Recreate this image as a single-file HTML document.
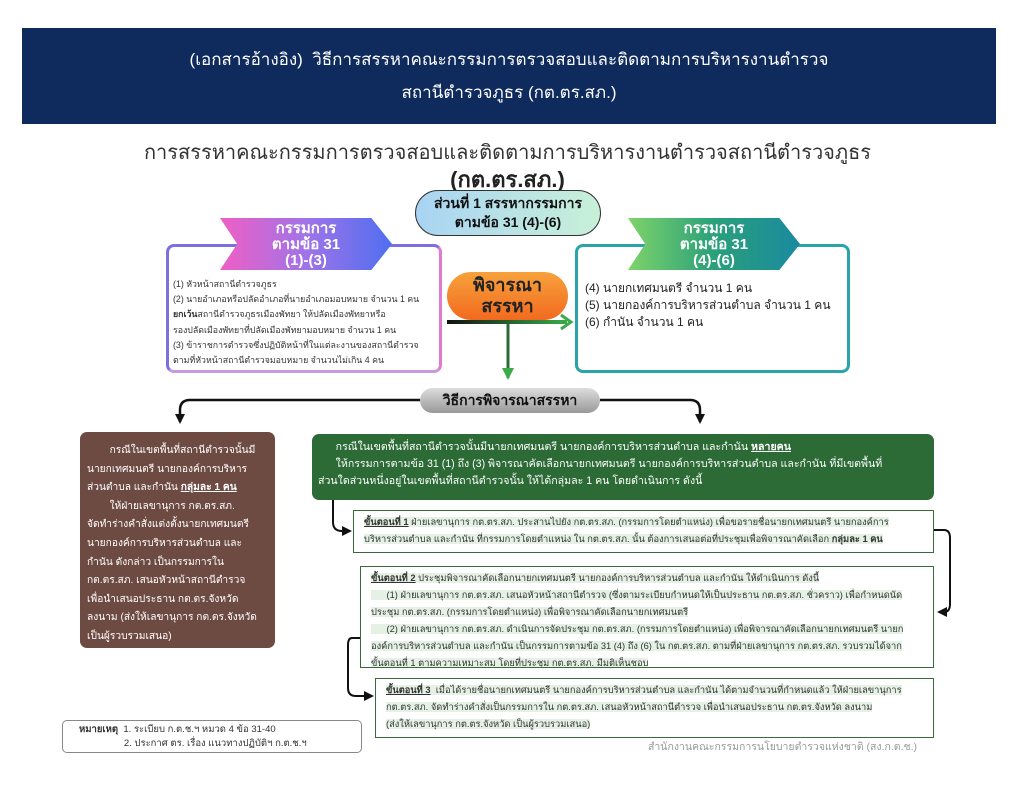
<!DOCTYPE html>
<html><head><meta charset="utf-8">
<style>
*{margin:0;padding:0;box-sizing:border-box}
body{width:1015px;height:796px;background:#fff;position:relative;overflow:hidden;font-family:"Liberation Sans","Noto Sans CJK SC",sans-serif;color:#333}
.a{position:absolute}
.hdr{left:22px;top:28px;width:974px;height:96px;background:#0f2a5c;color:#fff;text-align:center;font-size:17px;line-height:33px;padding-top:15px}
.title{left:0;width:1015px;top:136px;text-align:center;font-size:20px;color:#333}
.title2{left:0;width:1015px;top:162px;text-align:center;font-size:22px;font-weight:bold;color:#222}
.pill{left:415px;top:190px;width:186px;height:46px;border:1.5px solid #333;border-radius:23px;background:linear-gradient(90deg,#a9d4f3,#c8f0d8);text-align:center;font-weight:bold;font-size:14px;line-height:19px;padding-top:3px;color:#111}
.box{border-radius:8px;background:#fff}
.lbox{left:166px;top:244px;width:276px;height:129px;border:3px solid #7c6fe0;border-right-color:#e27bd0;border-bottom-color:#c89be0}
.rbox{left:575px;top:244px;width:275px;height:129px;border:3px solid #2aa4a6}
.ban{height:52px;color:#fff;font-weight:bold;font-size:15px;line-height:16px;text-align:center;padding-top:3px;clip-path:polygon(0 0,88% 0,100% 50%,88% 100%,0 100%,10% 50%)}
.lban{left:220px;top:218px;width:172px;background:linear-gradient(90deg,#ef5fc4,#a073e8,#4f6ff0)}
.rban{left:628px;top:218px;width:172px;background:linear-gradient(90deg,#7ed36a,#2aa07a,#1a8aa0)}
.lt{left:173px;top:277px;width:266px;font-size:8.8px;line-height:15.2px;color:#333;white-space:nowrap}
.rt{left:585px;top:280px;width:262px;font-size:12px;line-height:17px;color:#222;white-space:nowrap}
.or{left:447px;top:272px;width:121px;height:48px;border-radius:24px;background:linear-gradient(180deg,#f7a23c,#f26a1f);text-align:center;font-weight:bold;font-size:18px;line-height:21px;padding-top:3px;color:#222}
.vp{left:420px;top:388px;width:180px;height:25px;border-radius:13px;background:linear-gradient(180deg,#ddd,#999);text-align:center;font-weight:bold;font-size:14px;line-height:25px;color:#111}
.brown{left:80px;top:432px;width:195px;height:216px;background:#6d4a42;border-radius:7px;color:#fff;font-size:10.2px;line-height:18.6px;padding:10px 4px 0 7px;white-space:nowrap}
.green{left:312px;top:434px;width:622px;height:66px;background:#2c6a36;border-radius:7px;color:#fff;font-size:10.6px;line-height:17px;padding:5px 6px 0 6px;white-space:nowrap}
.step{border:1.5px solid #3a6a3a;background:#fff;font-size:9.3px;line-height:17px;color:#333;padding:3px 6px 0 10px;white-space:nowrap;overflow:hidden}
.step span.h{background:#e4f1e4}
.s1{left:353px;top:510px;width:581px;height:43px}
.s2{left:360px;top:566px;width:574px;height:102px}
.s3{left:375px;top:678px;width:559px;height:60px}
.note{left:62px;top:720px;width:300px;height:33px;border:1.5px solid #888;border-radius:5px;font-size:9.5px;line-height:14px;padding:2px 0 0 16px;white-space:nowrap}
.foot{left:648px;top:738px;font-size:10.5px;color:#999;white-space:nowrap}
</style></head><body>
<div class="a hdr">(เอกสารอ้างอิง)&nbsp; วิธีการสรรหาคณะกรรมการตรวจสอบและติดตามการบริหารงานตำรวจ<br>สถานีตำรวจภูธร (กต.ตร.สภ.)</div>
<div class="a title">การสรรหาคณะกรรมการตรวจสอบและติดตามการบริหารงานตำรวจสถานีตำรวจภูธร</div>
<div class="a title2">(กต.ตร.สภ.)</div>
<div class="a pill">ส่วนที่ 1 สรรหากรรมการ<br>ตามข้อ 31 (4)-(6)</div>

<div class="a box lbox"></div>
<div class="a ban lban">กรรมการ<br>ตามข้อ 31<br>(1)-(3)</div>
<div class="a lt">(1) หัวหน้าสถานีตำรวจภูธร<br>(2) นายอำเภอหรือปลัดอำเภอที่นายอำเภอมอบหมาย จำนวน 1 คน<br><b>ยกเว้น</b>สถานีตำรวจภูธรเมืองพัทยา ให้ปลัดเมืองพัทยาหรือ<br>รองปลัดเมืองพัทยาที่ปลัดเมืองพัทยามอบหมาย จำนวน 1 คน<br>(3) ข้าราชการตำรวจซึ่งปฏิบัติหน้าที่ในแต่ละงานของสถานีตำรวจ<br>ตามที่หัวหน้าสถานีตำรวจมอบหมาย จำนวนไม่เกิน 4 คน</div>

<div class="a box rbox"></div>
<div class="a ban rban">กรรมการ<br>ตามข้อ 31<br>(4)-(6)</div>
<div class="a rt">(4) นายกเทศมนตรี จำนวน 1 คน<br>(5) นายกองค์การบริหารส่วนตำบล จำนวน 1 คน<br>(6) กำนัน จำนวน 1 คน</div>

<div class="a or">พิจารณา<br>สรรหา</div>

<svg class="a" style="left:0;top:0" width="1015" height="796">
<defs>
<linearGradient id="g1" x1="0" x2="1"><stop offset="0" stop-color="#111"/><stop offset="1" stop-color="#3aaa4a"/></linearGradient>
<marker id="ag" markerUnits="userSpaceOnUse" markerWidth="14" markerHeight="14" refX="10" refY="7" orient="auto"><path d="M0,1 L12,7 L0,13 Z" fill="#3aaa4a"/></marker>
<marker id="ak" markerUnits="userSpaceOnUse" markerWidth="12" markerHeight="12" refX="8" refY="6" orient="auto"><path d="M0,1 L10,6 L0,11 Z" fill="#111"/></marker>
</defs>
<rect x="447" y="320" width="120" height="4" fill="url(#g1)"/>
<path d="M561,315 L571,322 L561,329" fill="none" stroke="#3aaa4a" stroke-width="3"/>
<line x1="508" y1="324" x2="508" y2="378" stroke="#2c6a36" stroke-width="3" marker-end="url(#ag)"/>
<path d="M420,400 L190,400 Q180,400 180,410 L180,422" fill="none" stroke="#111" stroke-width="2.5" marker-end="url(#ak)"/>
<path d="M600,400 L690,400 Q700,400 700,410 L700,422" fill="none" stroke="#111" stroke-width="2.5" marker-end="url(#ak)"/>
<path d="M333,500 L333,522 Q333,531 342,531 L350,531" fill="none" stroke="#111" stroke-width="2" marker-end="url(#ak)"/>
<path d="M934,530 L944,530 Q950,530 950,538 L950,604 Q950,612 944,612 L939,612" fill="none" stroke="#111" stroke-width="2" marker-end="url(#ak)"/>
<path d="M360,638 L352,638 Q348,638 348,645 L348,688 Q348,696 356,696 L372,696" fill="none" stroke="#111" stroke-width="2" marker-end="url(#ak)"/>
</svg>

<div class="a vp">วิธีการพิจารณาสรรหา</div>

<div class="a brown">&nbsp;&nbsp;&nbsp;&nbsp;&nbsp;&nbsp;&nbsp;&nbsp;กรณีในเขตพื้นที่สถานีตำรวจนั้นมี<br>นายกเทศมนตรี นายกองค์การบริหาร<br>ส่วนตำบล และกำนัน <b><u>กลุ่มละ 1 คน</u></b><br>&nbsp;&nbsp;&nbsp;&nbsp;&nbsp;&nbsp;&nbsp;&nbsp;ให้ฝ่ายเลขานุการ กต.ตร.สภ.<br>จัดทำร่างคำสั่งแต่งตั้งนายกเทศมนตรี<br>นายกองค์การบริหารส่วนตำบล และ<br>กำนัน ดังกล่าว เป็นกรรมการใน<br>กต.ตร.สภ. เสนอหัวหน้าสถานีตำรวจ<br>เพื่อนำเสนอประธาน กต.ตร.จังหวัด<br>ลงนาม (ส่งให้เลขานุการ กต.ตร.จังหวัด<br>เป็นผู้รวบรวมเสนอ)</div>

<div class="a green">&nbsp;&nbsp;&nbsp;&nbsp;&nbsp;&nbsp;กรณีในเขตพื้นที่สถานีตำรวจนั้นมีนายกเทศมนตรี นายกองค์การบริหารส่วนตำบล และกำนัน <b><u>หลายคน</u></b><br>&nbsp;&nbsp;&nbsp;&nbsp;&nbsp;&nbsp;ให้กรรมการตามข้อ 31 (1) ถึง (3) พิจารณาคัดเลือกนายกเทศมนตรี นายกองค์การบริหารส่วนตำบล และกำนัน ที่มีเขตพื้นที่<br>ส่วนใดส่วนหนึ่งอยู่ในเขตพื้นที่สถานีตำรวจนั้น ให้ได้กลุ่มละ 1 คน โดยดำเนินการ ดังนี้</div>

<div class="a step s1"><span class="h"><b><u>ขั้นตอนที่ 1</u></b> ฝ่ายเลขานุการ กต.ตร.สภ. ประสานไปยัง กต.ตร.สภ. (กรรมการโดยตำแหน่ง) เพื่อขอรายชื่อนายกเทศมนตรี นายกองค์การ</span><br><span class="h">บริหารส่วนตำบล และกำนัน ที่กรรมการโดยตำแหน่ง ใน กต.ตร.สภ. นั้น ต้องการเสนอต่อที่ประชุมเพื่อพิจารณาคัดเลือก <b>กลุ่มละ 1 คน</b></span></div>

<div class="a step s2"><span class="h"><b><u>ขั้นตอนที่ 2</u></b> ประชุมพิจารณาคัดเลือกนายกเทศมนตรี นายกองค์การบริหารส่วนตำบล และกำนัน ให้ดำเนินการ ดังนี้</span><br><span class="h">&nbsp;&nbsp;&nbsp;&nbsp;&nbsp;&nbsp;(1) ฝ่ายเลขานุการ กต.ตร.สภ. เสนอหัวหน้าสถานีตำรวจ (ซึ่งตามระเบียบกำหนดให้เป็นประธาน กต.ตร.สภ. ชั่วคราว) เพื่อกำหนดนัด</span><br><span class="h">ประชุม กต.ตร.สภ. (กรรมการโดยตำแหน่ง) เพื่อพิจารณาคัดเลือกนายกเทศมนตรี</span><br><span class="h">&nbsp;&nbsp;&nbsp;&nbsp;&nbsp;&nbsp;(2) ฝ่ายเลขานุการ กต.ตร.สภ. ดำเนินการจัดประชุม กต.ตร.สภ. (กรรมการโดยตำแหน่ง) เพื่อพิจารณาคัดเลือกนายกเทศมนตรี นายก</span><br><span class="h">องค์การบริหารส่วนตำบล และกำนัน เป็นกรรมการตามข้อ 31 (4) ถึง (6) ใน กต.ตร.สภ. ตามที่ฝ่ายเลขานุการ กต.ตร.สภ. รวบรวมได้จาก</span><br><span class="h">ขั้นตอนที่ 1 ตามความเหมาะสม โดยที่ประชุม กต.ตร.สภ. มีมติเห็นชอบ</span></div>

<div class="a step s3"><span class="h"><b><u>ขั้นตอนที่ 3</u></b>&nbsp; เมื่อได้รายชื่อนายกเทศมนตรี นายกองค์การบริหารส่วนตำบล และกำนัน ได้ตามจำนวนที่กำหนดแล้ว ให้ฝ่ายเลขานุการ</span><br><span class="h">กต.ตร.สภ. จัดทำร่างคำสั่งเป็นกรรมการใน กต.ตร.สภ. เสนอหัวหน้าสถานีตำรวจ เพื่อนำเสนอประธาน กต.ตร.จังหวัด ลงนาม</span><br><span class="h">(ส่งให้เลขานุการ กต.ตร.จังหวัด เป็นผู้รวบรวมเสนอ)</span></div>

<div class="a note"><b>หมายเหตุ</b>&nbsp; 1. ระเบียบ ก.ต.ช.ฯ หมวด 4 ข้อ 31-40<br>&nbsp;&nbsp;&nbsp;&nbsp;&nbsp;&nbsp;&nbsp;&nbsp;&nbsp;&nbsp;&nbsp;&nbsp;&nbsp;&nbsp;&nbsp;&nbsp;&nbsp;2. ประกาศ ตร. เรื่อง แนวทางปฏิบัติฯ ก.ต.ช.ฯ</div>
<div class="a foot">สำนักงานคณะกรรมการนโยบายตำรวจแห่งชาติ (สง.ก.ต.ช.)</div>
</body></html>
